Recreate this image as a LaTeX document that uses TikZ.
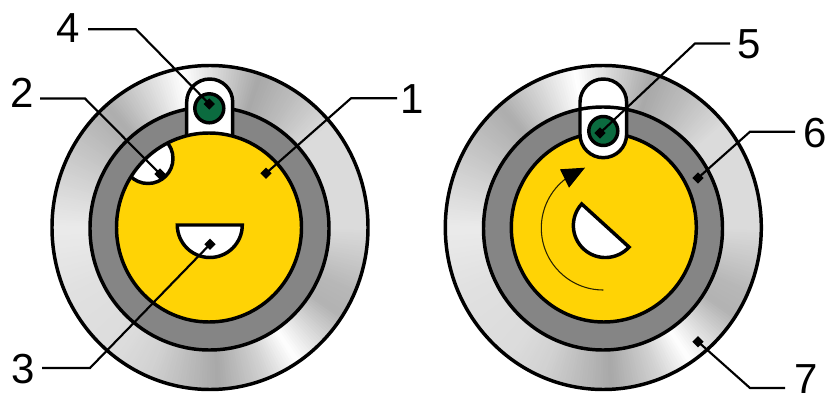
\documentclass[tikz,border=0pt]{standalone}
\usepackage{fontspec}
\setmainfont{Liberation Sans}
\usetikzlibrary{shapes.geometric}
\definecolor{slotyellow}{HTML}{FFD305}
\definecolor{ringgrey}{HTML}{858585}
\definecolor{pingreen}{HTML}{0B6B3F}
\newcommand{\metalring}[2]{%
  \begin{scope}
    \clip (#1,#2) circle[x radius=158,y radius=162];
    \foreach \sa/\ga/\sb/\gb in {0/.86/24/.72,24/.72/34/.7,34/.7/57/1,57/1/70/.82,70/.82/87/.66,87/.66/112/.82,112/.82/125/.86,125/.86/155/.88,155/.88/180/.92,180/.92/205/.8,205/.8/230/.68,230/.68/245/.84,245/.84/260/1,260/1/288/.66,288/.66/302/.74,302/.74/320/.86,320/.86/345/.86,345/.86/360/.86}{
      \pgfmathtruncatemacro\nn{max(1,round((\sb-\sa)))}
      \foreach \i in {1,...,\nn}{
        \pgfmathsetmacro\aa{\sa+(\i-1)*(\sb-\sa)/\nn}
        \pgfmathsetmacro\ab{\sa+\i*(\sb-\sa)/\nn+0.5}
        \pgfmathsetmacro\gv{\ga+(\i-0.5)/\nn*(\gb-\ga)}
        \definecolor{wedgegrey}{gray}{\gv}
        \fill[wedgegrey] (#1,#2) -- ++(\aa:200) -- ++(0,0) arc[start angle=\aa,end angle=\ab,radius=200] -- cycle;
      }
    }
  \end{scope}
  \draw[ring] (#1,#2) circle[x radius=158,y radius=162];
}
\tikzset{
  ring/.style={draw=black,line width=2.6pt},
  leader/.style={draw=black,line width=1.6pt,line join=miter},
  tipmark/.style={shape=diamond,fill=black,inner sep=0pt,minimum width=8.5pt,minimum height=8.5pt},
  numlabel/.style={inner sep=0pt,font=\fontsize{31.5}{36}\selectfont},
}
\begin{document}
\begin{tikzpicture}[x=0.75pt,y=-0.75pt]
\useasboundingbox (0,0) rectangle (829,399);
% left unit
\metalring{210}{227.5}
\draw[ring,fill=ringgrey] (209.5,228.5) circle[x radius=119.5,y radius=121.5];
\draw[ring,fill=white] (186.7,145) -- (186.7,102) arc[start angle=180,end angle=360,radius=23] -- (232.7,145);
\fill[slotyellow] (209,227.5) circle[x radius=92.5,y radius=94.5];
\begin{scope}
  \clip (209,227.5) circle[x radius=92.5,y radius=94.5];
  \draw[ring,fill=white] (148,158.5) circle[radius=25];
\end{scope}
\draw[ring] (209,227.5) circle[x radius=92.5,y radius=94.5];
\draw[ring,fill=pingreen] (209.3,108.3) circle[radius=14.5];
\draw[ring,fill=white,line join=miter] (177.3,225) arc[start angle=180,end angle=0,radius=32.5] -- cycle;
% right unit
\metalring{603.3}{227.5}
\draw[ring,fill=ringgrey] (603,228.5) circle[x radius=119.5,y radius=121.5];
\fill[slotyellow] (603.8,227.5) circle[x radius=92.5,y radius=94.5];
\draw[ring] (603.8,227.5) circle[x radius=92.5,y radius=94.5];
\draw[ring,fill=white] (580,134.4) -- (580,102.3) arc[start angle=180,end angle=360,radius=23.3] -- (626.6,134.4) arc[start angle=0,end angle=180,radius=23.3] -- cycle;
\begin{scope}
  \clip (580,134.4) -- (580,102.3) arc[start angle=180,end angle=360,radius=23.3] -- (626.6,134.4) arc[start angle=0,end angle=180,radius=23.3] -- cycle;
  \draw[ring] (603,228.5) circle[x radius=119.5,y radius=121.5];
\end{scope}
\draw[ring,fill=pingreen] (603.3,131) circle[radius=14.5];
\draw[ring,fill=white,line join=miter] (581.7,204) arc[start angle=222.3,end angle=42.3,radius=32] -- cycle;
\draw[draw=black!85!slotyellow,line width=0.8pt] (603.3,290) arc[start angle=90,end angle=233,radius=62];
\fill[black] (560,169.3) -- (585,167.7) -- (569,187.7) -- cycle;
% labels
\node[numlabel] (n1) at (412,99) {1};
\node[numlabel] (n2) at (22,92.5) {2};
\node[numlabel] (n3) at (23,369) {3};
\node[numlabel] (n4) at (68,28.5) {4};
\node[numlabel] (n5) at (749,44) {5};
\node[numlabel] (n6) at (815,133) {6};
\node[numlabel] (n7) at (806,379.5) {7};
% leader tips
\node[tipmark] (t1) at (266,173.3) {};
\node[tipmark] (t2) at (160,174) {};
\node[tipmark] (t3) at (210,244.3) {};
\node[tipmark] (t4) at (209.3,104) {};
\node[tipmark] (t5) at (600,133) {};
\node[tipmark] (t6) at (698,178) {};
\node[tipmark] (t7) at (698,341.7) {};
% leader starts and elbows
\coordinate (s1) at (397,98.3); \coordinate (e1) at (351,98.3);
\coordinate (s2) at (40,98.5);  \coordinate (e2) at (85,98.5);
\coordinate (s3) at (42,368);   \coordinate (e3) at (90,368);
\coordinate (s4) at (88,29.3);  \coordinate (e4) at (136,29.3);
\coordinate (s5) at (730,43.5); \coordinate (e5) at (695,43.5);
\coordinate (s6) at (795,131.7);\coordinate (e6) at (750,131.7);
\coordinate (s7) at (785,388);  \coordinate (e7) at (750,388);
\foreach \k in {1,...,7}{\draw[leader] (s\k) -- (e\k) -- (t\k.center);}
\end{tikzpicture}
\end{document}
